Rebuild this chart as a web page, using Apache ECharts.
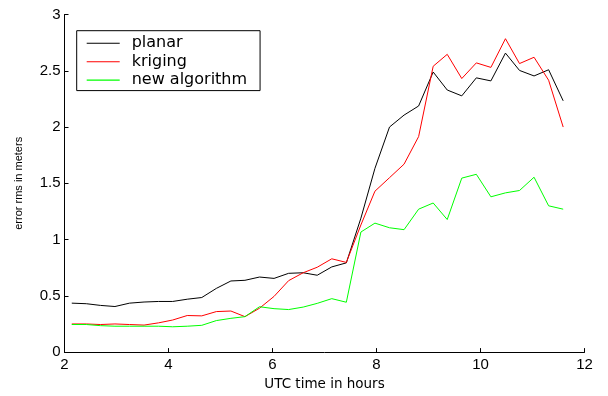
<!DOCTYPE html>
<html>
<head>
<meta charset="utf-8">
<script src="https://cdn.jsdelivr.net/npm/echarts@6/dist/echarts.min.js"></script>
<style>
  html, body { margin: 0; padding: 0; background: #fff; }
  #chart { width: 608px; height: 396px; }
</style>
</head>
<body>
<div id="chart"></div>
<script>
// Sample times (UTC hours), one every 1000 s
const hours = [2.14, 2.42, 2.69, 2.97, 3.25, 3.53, 3.81, 4.08, 4.36, 4.64,
               4.92, 5.20, 5.47, 5.75, 6.03, 6.31, 6.59, 6.86, 7.14, 7.42,
               7.70, 7.97, 8.25, 8.53, 8.81, 9.09, 9.36, 9.64, 9.92, 10.20,
               10.48, 10.75, 11.03, 11.31, 11.59];

// RMS error (m) for each interpolation method
const planar = [0.435, 0.43, 0.415, 0.405, 0.435, 0.445, 0.45, 0.45, 0.47, 0.485,
                0.566, 0.632, 0.638, 0.667, 0.655, 0.70, 0.705, 0.683, 0.757, 0.793,
                1.19, 1.633, 2.0, 2.106, 2.187, 2.489, 2.329, 2.277, 2.437, 2.41,
                2.657, 2.503, 2.454, 2.509, 2.233];
const kriging = [0.25, 0.25, 0.245, 0.25, 0.245, 0.24, 0.26, 0.285, 0.325, 0.322,
                 0.36, 0.365, 0.315, 0.39, 0.495, 0.635, 0.705, 0.754, 0.829, 0.797,
                 1.13, 1.43, 1.55, 1.67, 1.915, 2.54, 2.646, 2.431, 2.57, 2.53,
                 2.785, 2.564, 2.62, 2.416, 2.0];
const newAlgorithm = [0.245, 0.245, 0.235, 0.23, 0.23, 0.23, 0.23, 0.225, 0.23, 0.238,
                      0.28, 0.30, 0.315, 0.403, 0.386, 0.378, 0.40, 0.433, 0.475, 0.443,
                      1.067, 1.146, 1.105, 1.088, 1.27, 1.325, 1.178, 1.546, 1.58, 1.38,
                      1.415, 1.436, 1.554, 1.30, 1.27];

const seriesNames = ['planar', 'kriging', 'new algorithm'];
const seriesColors = ['#000000', '#ff0000', '#00ff00'];
const seriesValues = [planar, kriging, newAlgorithm];

const pairs = vals => hours.map((h, i) => [h, vals[i]]);

const chart = echarts.init(document.getElementById('chart'), null, { renderer: 'canvas' });

const axisFont = { fontFamily: 'Liberation Sans, Arial, sans-serif', fontSize: 15, color: '#000' };

// Legend keys drawn as a plain short stroke
const lineIcon = 'path://M0,0H33V1.1H0Z';

chart.setOption({
  animation: false,
  backgroundColor: '#ffffff',
  grid: { left: 64.5, right: 23.5, top: 14.5, bottom: 36.7, containLabel: false },
  legend: {
    orient: 'vertical',
    left: 76.7,
    top: 30.7,
    data: seriesNames.map((name, k) => ({
      name: name,
      icon: lineIcon,
      itemStyle: { color: seriesColors[k], borderWidth: 0 }
    })),
    symbolKeepAspect: true,
    itemWidth: 33,
    itemHeight: 18,
    itemGap: 0.4,
    padding: [3.6, 13, 1.5, 10],
    borderColor: '#000',
    borderWidth: 1,
    backgroundColor: '#fff',
    selectedMode: false,
    textStyle: {
      fontFamily: 'DejaVu Sans, sans-serif',
      fontSize: 16,
      lineHeight: 18,
      color: '#000',
      padding: [0, 0, 0, 7]
    }
  },
  xAxis: {
    type: 'value',
    min: 2,
    max: 12,
    interval: 2,
    name: 'UTC time in hours',
    nameLocation: 'middle',
    nameGap: 22,
    nameTextStyle: { fontFamily: 'DejaVu Sans, sans-serif', fontSize: 13.5, color: '#000' },
    axisLine: { show: true, lineStyle: { color: '#000', width: 1 } },
    axisTick: { show: true, inside: true, length: 4, lineStyle: { color: '#000' } },
    axisLabel: Object.assign({ margin: 5 }, axisFont),
    splitLine: { show: false }
  },
  yAxis: {
    type: 'value',
    min: 0,
    max: 3,
    interval: 0.5,
    name: 'error rms in meters',
    nameLocation: 'middle',
    nameGap: 40,
    nameTextStyle: { fontFamily: 'Liberation Sans, Arial, sans-serif', fontSize: 11, color: '#000' },
    axisLine: { show: true, lineStyle: { color: '#000', width: 1 } },
    axisTick: { show: true, inside: true, length: 4, lineStyle: { color: '#000' } },
    axisLabel: Object.assign({ margin: 4 }, axisFont),
    splitLine: { show: false }
  },
  series: seriesNames.map((name, k) => ({
    name: name,
    type: 'line',
    data: pairs(seriesValues[k]),
    symbol: 'none',
    color: seriesColors[k],
    lineStyle: { color: seriesColors[k], width: 1 }
  }))
});
</script>
</body>
</html>
